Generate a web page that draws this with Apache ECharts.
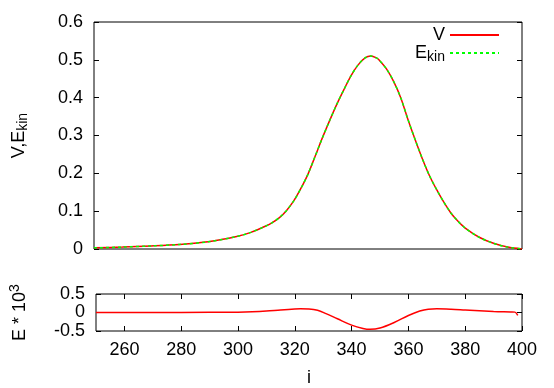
<!DOCTYPE html>
<html>
<head>
<meta charset="utf-8">
<script src="https://cdn.jsdelivr.net/npm/echarts@6/dist/echarts.min.js"></script>
<style>
  html, body { margin: 0; padding: 0; background: #fff; }
  #chart { width: 554px; height: 388px; }
</style>
</head>
<body>
<div id="chart"></div>
<script>
// 上图：V 和 E_kin
const iTop = [250, 260, 270, 280, 290, 300, 305, 310, 312.5, 315, 317.5, 320, 322.5, 325, 327.5, 330, 332.5, 335, 337.5, 340, 342.5, 345, 347, 349, 350, 352.5, 355, 357.5, 360, 362.5, 365, 367.5, 370, 372.5, 375, 377.5, 380, 385, 390, 395, 400]
const vData = [0.003, 0.005, 0.008, 0.012, 0.019, 0.033, 0.044, 0.06, 0.07, 0.083, 0.102, 0.127, 0.16, 0.198, 0.245, 0.293, 0.338, 0.381, 0.42, 0.457, 0.486, 0.505, 0.510, 0.505, 0.499, 0.476, 0.443, 0.40, 0.343, 0.29, 0.24, 0.195, 0.158, 0.125, 0.096, 0.074, 0.056, 0.031, 0.015, 0.005, 0.000]
const ekinData = [0.003, 0.005, 0.008, 0.012, 0.019, 0.033, 0.044, 0.06, 0.07, 0.083, 0.102, 0.127, 0.16, 0.198, 0.245, 0.293, 0.338, 0.381, 0.42, 0.457, 0.486, 0.505, 0.510, 0.505, 0.499, 0.476, 0.443, 0.40, 0.343, 0.29, 0.24, 0.195, 0.158, 0.125, 0.096, 0.074, 0.056, 0.031, 0.015, 0.005, 0.000]
// 下图：E * 10^3
const iBot = [250, 270, 290, 300, 305, 310, 315, 320, 322, 325, 328, 331, 335, 340, 344, 346.5, 350, 355, 360, 364, 367, 370, 375, 380, 390, 396, 397.5, 398.5]
const eData = [0, 0, 0.005, 0.01, 0.02, 0.04, 0.07, 0.095, 0.1, 0.095, 0.06, -0.03, -0.17, -0.34, -0.43, -0.455, -0.42, -0.27, -0.08, 0.04, 0.09, 0.1, 0.09, 0.07, 0.03, 0.015, 0.01, -0.08]
const xTicks = [260, 280, 300, 320, 340, 360, 380, 400]

const zip = (xs, ys) => xs.map((x, k) => [x, ys[k]])
const FONT = 'Liberation Sans'
const txt = { color: '#000', fontFamily: FONT, fontSize: 18 }

const chart = echarts.init(document.getElementById('chart'))
const option = {
  animation: false,
  textStyle: { fontFamily: FONT },
  grid: [
    { left: 94, right: 32, top: 22, height: 227, show: true, borderColor: '#000', borderWidth: 1, backgroundColor: 'transparent' },
    { left: 94, right: 32, top: 294, height: 38, show: true, borderColor: '#000', borderWidth: 1, backgroundColor: 'transparent' }
  ],
  legend: {
    orient: 'vertical',
    right: 54,
    top: 26,
    padding: 0,
    align: 'right',
    itemWidth: 49,
    itemHeight: 14,
    itemGap: 0,
    itemStyle: { opacity: 0 },
    data: ['V', 'Ekin'],
    formatter: name => name === 'Ekin' ? 'E{s|kin}' : name,
    textStyle: {
      color: '#000', fontFamily: FONT, fontSize: 18, width: 40, align: 'right',
      rich: { s: { fontSize: 14, fontFamily: FONT, color: '#000', padding: [8, 0, 0, 0] } }
    }
  },
  xAxis: [
    {
      gridIndex: 0, type: 'value', min: 250, max: 400,
      axisLine: { show: false, onZero: false }, axisTick: { show: false }, axisLabel: { show: false }, splitLine: { show: false }
    },
    {
      gridIndex: 1, type: 'value', min: 250, max: 400, position: 'bottom',
      axisLine: { show: false, onZero: false },
      axisTick: { show: true, inside: true, length: 5, customValues: xTicks, lineStyle: { color: '#000' } },
      axisLabel: { ...txt, margin: 10, customValues: xTicks },
      splitLine: { show: false },
      name: 'i', nameLocation: 'middle', nameGap: 38, nameTextStyle: { ...txt }
    },
    {
      gridIndex: 1, type: 'value', min: 250, max: 400, position: 'top',
      axisLine: { show: false, onZero: false },
      axisTick: { show: true, inside: true, length: 5, customValues: xTicks, lineStyle: { color: '#000' } },
      axisLabel: { show: false }, splitLine: { show: false }
    }
  ],
  yAxis: [
    {
      gridIndex: 0, type: 'value', min: 0, max: 0.6, interval: 0.1, position: 'left',
      axisLine: { show: false, onZero: false },
      axisTick: { show: true, inside: true, length: 5, lineStyle: { color: '#000' } },
      axisLabel: { ...txt, margin: 11, formatter: v => String(Math.round(v * 10) / 10) },
      splitLine: { show: false },
      name: 'V,E{s|kin}', nameLocation: 'middle', nameRotate: 90, nameGap: 64,
      nameTextStyle: { ...txt, rich: { s: { fontSize: 14, fontFamily: FONT, color: '#000', padding: [8, 0, 0, 0] } } }
    },
    {
      gridIndex: 0, type: 'value', min: 0, max: 0.6, interval: 0.1, position: 'right',
      axisLine: { show: false, onZero: false },
      axisTick: { show: true, inside: true, length: 5, lineStyle: { color: '#000' } },
      axisLabel: { show: false }, splitLine: { show: false }
    },
    {
      gridIndex: 1, type: 'value', min: -0.5, max: 0.5, interval: 0.5, position: 'left',
      axisLine: { show: false, onZero: false },
      axisTick: { show: true, inside: true, length: 5, lineStyle: { color: '#000' } },
      axisLabel: { ...txt, margin: 11 },
      splitLine: { show: false },
      name: 'E * 10{p|3}', nameLocation: 'middle', nameRotate: 90, nameGap: 64,
      nameTextStyle: { ...txt, rich: { p: { fontSize: 14, fontFamily: FONT, color: '#000', padding: [0, 0, 10, 0] } } }
    },
    {
      gridIndex: 1, type: 'value', min: -0.5, max: 0.5, interval: 0.5, position: 'right',
      axisLine: { show: false, onZero: false },
      axisTick: { show: true, inside: true, length: 5, lineStyle: { color: '#000' } },
      axisLabel: { show: false }, splitLine: { show: false }
    }
  ],
  series: [
    {
      name: 'V', type: 'line', xAxisIndex: 0, yAxisIndex: 0, data: zip(iTop, vData),
      smooth: 0.3, showSymbol: false, symbol: 'none',
      lineStyle: { color: '#ff0000', width: 1.5 }, itemStyle: { color: '#ff0000' }
    },
    {
      name: 'Ekin', type: 'line', xAxisIndex: 0, yAxisIndex: 0, data: zip(iTop, ekinData),
      smooth: 0.3, showSymbol: false, symbol: 'none',
      lineStyle: { color: '#00ff00', width: 1.5, type: [3, 3] }, itemStyle: { color: '#00ff00' }
    },
    {
      name: 'E', type: 'line', xAxisIndex: 1, yAxisIndex: 2, data: zip(iBot, eData),
      smooth: 0.35, showSymbol: false, symbol: 'none',
      lineStyle: { color: '#ff0000', width: 1.5 }, itemStyle: { color: '#ff0000' }
    }
  ]
}
chart.setOption(option)
window.addEventListener('resize', function() {
  chart.resize()
})
</script>
</body>
</html>
